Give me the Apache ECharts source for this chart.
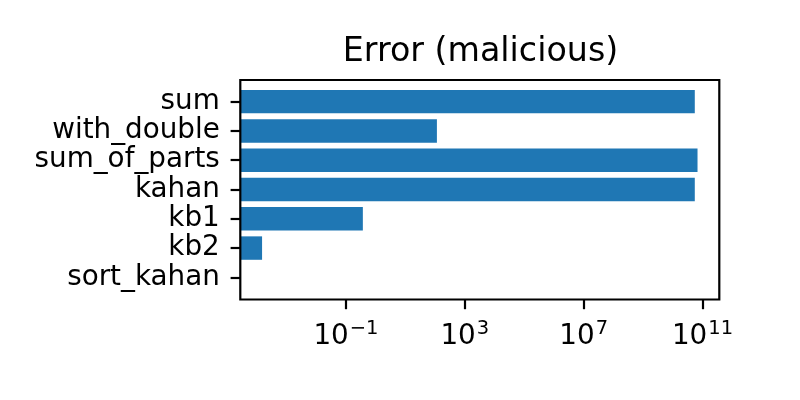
<!DOCTYPE html>
<html>
<head>
<meta charset="utf-8">
<script src="https://cdn.jsdelivr.net/npm/echarts@6/dist/echarts.min.js"></script>
<style>html,body{margin:0;padding:0;background:#fff;}#c{width:800px;height:400px;}</style>
</head>
<body>
<div id="c"></div>
<script>
const categories = ['sum', 'with_double', 'sum_of_parts', 'kahan', 'kb1', 'kb2', 'sort_kahan'];
const errorValues = [5.5e10, 115, 6.8e10, 5.5e10, 0.37, 1.5e-4, null];
const tickValues = [1e-1, 1e3, 1e7, 1e11];
const tickExponents = ['−1', '3', '7', '11'];

const positive = errorValues.filter(v => v != null && v > 0);
const lo = Math.log10(Math.min(...positive));
const hi = Math.log10(Math.max(...positive));
const pad = 0.05 * (hi - lo);
const xMin = Math.pow(10, lo - pad);
const xMax = Math.pow(10, hi + pad);

const FONT = 'DejaVu Sans';
const chart = echarts.init(document.getElementById('c'), null, {renderer: 'canvas'});
chart.setOption({
  animation: false,
  backgroundColor: '#fff',
  title: {
    text: 'Error (malicious)',
    left: 475.5, top: 31, textAlign: 'center',
    textStyle: {fontFamily: FONT, fontSize: 33.3, fontWeight: 'normal', color: '#000'}
  },
  grid: [
    {left: 240.3, top: 87, width: 479, height: 205, show: false, containLabel: false},
    {left: 240.3, top: 80, width: 479, height: 219.5, show: true, borderColor: '#000', borderWidth: 2.2, backgroundColor: 'transparent', z: 10}
  ],
  xAxis: [
    {
      type: 'log', gridIndex: 0, min: xMin, max: xMax, startValue: xMin, logBase: 10,
      offset: 7.5,
      axisLine: {show: false},
      splitLine: {show: false},
      minorTick: {show: false},
      axisTick: {show: true, customValues: tickValues, length: 9.7, lineStyle: {color: '#000', width: 2.2}},
      axisLabel: {
        customValues: tickValues, margin: 19.4, color: '#000',
        fontFamily: FONT, fontSize: 27.8,
        formatter: function (v) {
          const i = tickValues.findIndex(t => Math.abs(Math.log10(t) - Math.log10(v)) < 1e-6);
          return '{b|10}{s|' + (i >= 0 ? tickExponents[i] : '') + '}';
        },
        rich: {
          b: {fontFamily: FONT, fontSize: 27.8, color: '#000', verticalAlign: 'bottom', lineHeight: 32},
          s: {fontFamily: FONT, fontSize: 19.5, color: '#000', verticalAlign: 'top', lineHeight: 32, padding: [0, 0, 0, 1]}
        }
      }
    },
    {type: 'value', gridIndex: 1, show: false, min: 0, max: 1}
  ],
  yAxis: [
    {
      type: 'category', gridIndex: 0, data: categories, inverse: true,
      axisLine: {show: false},
      axisTick: {show: true, interval: 0, alignWithLabel: true, length: 9.7, lineStyle: {color: '#000', width: 2.2}},
      axisLabel: {interval: 0, margin: 20.5, color: '#000', fontFamily: FONT, fontSize: 27.8},
      splitLine: {show: false}
    },
    {type: 'value', gridIndex: 1, show: false, min: 0, max: 1}
  ],
  series: [{
    type: 'bar', xAxisIndex: 0, yAxisIndex: 0,
    data: errorValues,
    barWidth: '80%',
    itemStyle: {color: '#1f77b4'}
  }]
});
</script>
</body>
</html>
